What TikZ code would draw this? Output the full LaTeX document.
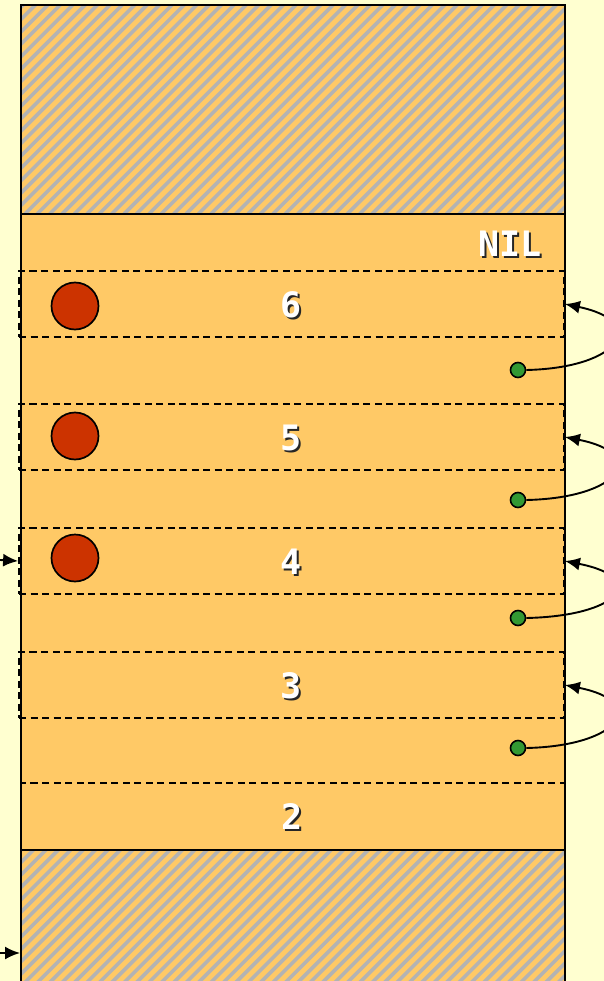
\documentclass[tikz,border=0pt]{standalone}
\usepackage{fontspec}
\setmonofont{DejaVu Sans Mono}
\usetikzlibrary{arrows.meta}
\definecolor{bgc}{HTML}{FFFFD0}
\definecolor{orng}{HTML}{FFC966}
\definecolor{hatchc}{HTML}{B3B3B3}
\definecolor{redc}{HTML}{CC3300}
\definecolor{grnc}{HTML}{339933}
\newcommand\shtxt[1]{\rlap{\kern2pt\raisebox{-2pt}{\color{black!85}#1}}{\color{white}#1}}
\begin{document}
\begin{tikzpicture}[x=1pt,y=-1pt,
  frame/.style={draw, dash pattern=on 7pt off 4.5pt, line width=1.8pt, minimum width=545pt, minimum height=66pt, inner sep=0pt},
  lbl/.style={font=\ttfamily\bfseries\fontsize{35}{40}\selectfont, inner sep=0pt},
  bead/.style={circle, draw, fill=redc, line width=1.7pt, minimum size=47pt, inner sep=0pt},
  gdot/.style={circle, draw, fill=grnc, line width=1.6pt, minimum size=15pt, inner sep=0pt},
  link/.style={-{Latex[length=15pt,width=13pt]}, line width=1.9pt},
  hatch/.style={hatchc, line width=3.6pt}]
\useasboundingbox (0,0) rectangle (604,981);
\clip (0,0) rectangle (604,981);
\fill[bgc] (0,0) rectangle (604,981);
% upper hatched region
\begin{scope}
  \clip (21,5) rectangle (565,214);
  \fill[orng] (21,5) rectangle (565,214);
  \foreach \i in {-20,...,46} \draw[hatch] (\i*12.4,214) -- ++(230,-230);
\end{scope}
% middle region
\fill[orng] (21,214) rectangle (565,850);
% lower hatched region
\begin{scope}
  \clip (21,850) rectangle (565,995);
  \fill[orng] (21,850) rectangle (565,995);
  \foreach \i in {-14,...,46} \draw[hatch] (\i*12.4,995) -- ++(160,-160);
\end{scope}
% border
\draw[line width=2.3pt] (21,995) -- (21,5) -- (565,5) -- (565,995);
\draw[line width=2.3pt] (21,214) -- (565,214);
\draw[line width=2.3pt] (21,850) -- (565,850);
% frames
\node[frame] (f6) at (291.5,304) {};
\node[frame] (f5) at (291.5,437) {};
\node[frame] (f4) at (291.5,561) {};
\node[frame] (f3) at (291.5,685) {};
\node[frame, minimum width=544pt, minimum height=67pt] (f2) at (293,816.5) {};
% labels
\node[lbl] (nil) at (510,245) {\shtxt{NIL}};
\node[lbl] (l6) at (291,306) {\shtxt{6}};
\node[lbl] (l5) at (291,439) {\shtxt{5}};
\node[lbl] (l4) at (291,563) {\shtxt{4}};
\node[lbl] (l3) at (291,687) {\shtxt{3}};
\node[lbl] (l2) at (292,818) {\shtxt{2}};
% beads
\node[bead] (b6) at (75,306) {};
\node[bead] (b5) at (75,436) {};
\node[bead] (b4) at (75,558) {};
% green dots
\node[gdot] (g6) at (518,370) {};
\node[gdot] (g5) at (518,500) {};
\node[gdot] (g4) at (518,618) {};
\node[gdot] (g3) at (518,748) {};
% links
\draw[link] (g6.east) .. controls (620,368) and (650,322) .. (f6.east);
\draw[link] (g5.east) .. controls (620,498) and (650,454) .. (f5.east);
\draw[link] (g4.east) .. controls (620,616) and (650,578) .. (f4.east);
\draw[link] (g3.east) .. controls (620,746) and (650,702) .. (f3.east);
% incoming arrows
\coordinate (in4) at (0,560);
\coordinate (in0) at (0,953);
\coordinate (st0) at (20,953);
\draw[link] (in4) -- (f4.west);
\draw[link] (in0) -- (st0);
\end{tikzpicture}
\end{document}
